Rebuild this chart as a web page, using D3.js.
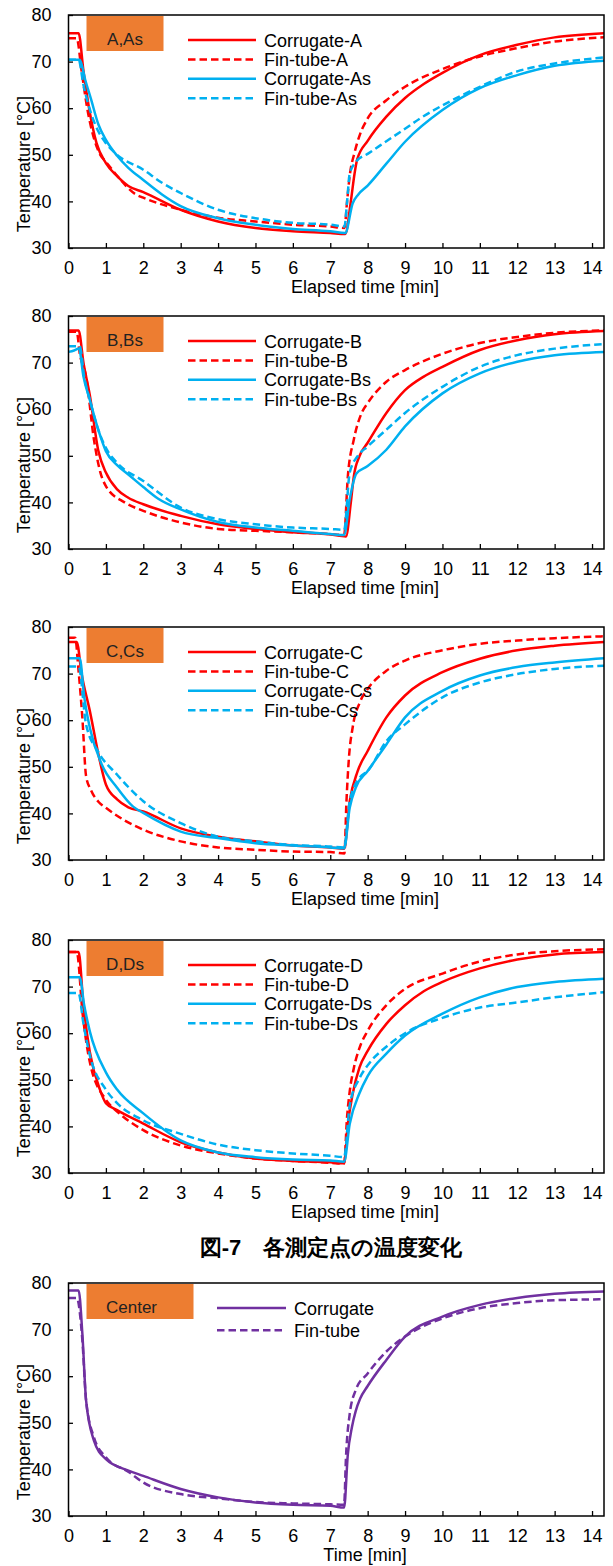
<!DOCTYPE html>
<html>

<head>
    <meta charset="utf-8">
    <title>Temperature change</title>
    <script src="https://d3js.org/d3.v7.min.js"></script>
    <style>
        body { margin: 0; background: #fff; }
        text { font-family: "Liberation Sans", Arial, sans-serif; }
    </style>
</head>

<body>
    <svg id="chart" width="613" height="1566"></svg>
    <script>
        // axis ticks
        const xTicks = d3.range(0, 15);
        const yTicks = [30, 40, 50, 60, 70, 80];

        // [time min, temperature C]
        const corrA = [[0,76.1],[0.27,76.1],[0.4,68],[0.55,60],[0.75,52.5],[1,48.2],[1.3,45.4],[1.6,43.3],[2,42],[3,38.2],[4,35.7],[5,34.3],[6,33.6],[7,33.2],[7.4,33.0],[7.55,40],[7.65,46],[7.72,49],[8,53],[8.5,58.2],[9,62.2],[9.5,65.2],[10,67.6],[11,71.4],[12,73.6],[13,75.2],[14.32,76.1]];
        const finA = [[0,75],[0.22,75],[0.35,68],[0.5,60],[0.7,53],[0.85,50],[1,48.5],[1.3,45.5],[1.8,41.5],[2,40.8],[3,38.2],[4,36.5],[5,35.7],[6,35],[7,34.6],[7.38,34.3],[7.45,40],[7.52,45.5],[7.65,50.5],[7.8,54.5],[8,57.8],[8.5,61.7],[9,64.6],[10,68.4],[11,71.1],[12,72.9],[13,74.3],[14.32,75.2]];
        const corrAs = [[0,70.4],[0.3,70.4],[0.45,66],[0.6,62],[0.8,56.5],[1,53.2],[1.3,49.8],[1.6,47.2],[2,44.6],[2.5,41.5],[3,39],[4,36.4],[5,35],[6,34.1],[7,33.6],[7.4,33.2],[7.6,39.6],[7.75,41.5],[8,43.4],[8.5,48.1],[9,52.8],[10,59.6],[11,64.3],[12,67.1],[13,69.1],[14.32,70.2]];
        const finAs = [[0,70.4],[0.27,70.4],[0.4,65],[0.6,59],[0.8,55],[1,52.5],[1.3,50],[2,46.8],[2.5,44],[3,41.8],[4,38.2],[5,36.4],[6,35.4],[7,35],[7.38,34.6],[7.45,40],[7.52,46],[7.7,48.6],[8,50.2],[8.5,52.9],[9,55.6],[9.4,57.8],[10,60.6],[11,64.6],[12,67.9],[13,69.6],[14.32,70.9]];

        const corrB = [[0,76.9],[0.27,76.9],[0.4,70],[0.57,63],[0.8,51],[1,46.4],[1.3,42.8],[1.6,41],[2,39.6],[3,37.1],[4,35.3],[5,34.3],[6,33.6],[7,33.1],[7.42,32.7],[7.55,40],[7.63,45.6],[7.78,49.9],[8,52.8],[8.5,59.2],[9,64.1],[9.5,67],[10,69.1],[11,72.7],[12,74.8],[13,76.1],[14.32,76.8]];
        const finB = [[0,76.6],[0.22,76.6],[0.3,72],[0.47,67],[0.68,53.5],[0.85,46.5],[1,43.5],[1.5,40],[2,38.2],[3,35.7],[4,34.3],[5,33.9],[6,33.6],[7,33.2],[7.37,33],[7.47,45.6],[7.63,53.5],[7.84,59.2],[8,61.3],[8.5,65.9],[9,68.4],[10,71.9],[11,74.2],[12,75.5],[13,76.4],[14.32,76.9]];
        const corrBs = [[0,72.3],[0.15,72.6],[0.28,73],[0.4,67],[0.57,62],[0.8,55.5],[1,51],[1.3,48],[1.6,46],[2,43.3],[2.4,40.8],[3,38.5],[4,35.8],[5,34.6],[6,33.9],[7,33.2],[7.37,33],[7.52,40.7],[7.7,46.2],[8,47.8],[8.5,51.3],[9,56.3],[10,63.4],[11,67.7],[12,70.2],[13,71.6],[14.32,72.3]];
        const finBs = [[0,73.5],[0.3,73.5],[0.42,67],[0.57,62],[0.8,55.5],[1,51.7],[1.3,48.5],[2,44.6],[3,38.9],[4,36.4],[5,35.3],[6,34.6],[7,34.3],[7.37,34.1],[7.52,46.4],[7.73,49.9],[8,52],[8.5,55.6],[9,59.2],[10,64.8],[11,69.1],[12,71.6],[13,73],[14.32,74]];

        const corrC = [[0,76.8],[0.22,76.8],[0.35,70],[0.57,62],[0.84,51.2],[1,46.2],[1.3,43],[1.6,41.3],[2,40.4],[3,36.8],[4,35],[5,34],[6,33.1],[7,32.7],[7.37,32.4],[7.52,42.6],[7.73,49],[8,53.4],[8.5,60.6],[9,65.3],[10,70.3],[11,73.2],[12,75],[13,76],[14.32,76.8]];
        const finC = [[0,77.7],[0.18,77.7],[0.26,71.4],[0.37,60.6],[0.47,48],[0.6,45],[0.8,42.5],[1,41.2],[1.5,38.5],[2,36.5],[3,34],[4,32.7],[5,32.2],[6,31.8],[7,31.7],[7.38,31.4],[7.43,42],[7.5,52],[7.6,58.5],[7.8,64],[8,66.7],[8.5,70.6],[9,72.8],[10,75],[11,76.4],[12,77.1],[13,77.6],[14.32,78]];
        const corrCs = [[0,73.3],[0.3,73.3],[0.42,65],[0.57,58.4],[0.89,50.5],[1.3,45.5],[1.72,41.5],[2,40.1],[3,36.1],[4,34.7],[5,33.6],[6,33.1],[7,32.7],[7.37,32.5],[7.52,41.2],[7.68,45.5],[8,49.1],[8.5,54.8],[9,60.6],[10,66.3],[11,69.6],[12,71.4],[13,72.4],[14.32,73.3]];
        const finCs = [[0,71.5],[0.27,71.5],[0.47,59.1],[0.78,53.4],[1.3,48.3],[2,42.6],[3,37.9],[4,35],[5,34],[6,33.2],[7,32.9],[7.37,32.7],[7.52,42.6],[7.78,47.6],[8,49.1],[8.5,55.5],[9,59.1],[10,64.9],[11,68.1],[12,69.9],[13,71],[14.32,71.7]];

        const corrD = [[0,77.4],[0.27,77.4],[0.4,66],[0.57,56],[0.84,47.9],[1,45],[1.3,43.5],[2,40.6],[3,36.6],[4,34.4],[5,33.1],[6,32.6],[7,32.3],[7.37,32.1],[7.47,40.5],[7.6,47],[7.78,52.6],[8,56.2],[8.5,62],[9,66],[9.5,69],[10,71],[11,73.9],[12,75.8],[13,76.9],[14.32,77.4]];
        const finD = [[0,77.4],[0.22,77.4],[0.38,64],[0.57,53.8],[1,45.7],[1.3,43.2],[2,39.2],[3,35.9],[4,34.2],[5,33.1],[6,32.6],[7,32.2],[7.37,32],[7.45,42.1],[7.52,47.5],[7.63,52.5],[7.78,56.8],[8,60.5],[8.5,66],[9,69.5],[10,72.8],[11,75.4],[12,76.9],[13,77.6],[14.32,78]];
        const corrDs = [[0,72],[0.3,72],[0.42,66],[0.57,60.4],[1,51.6],[1.3,47.9],[2,42.8],[3,37],[4,34.4],[5,33.4],[6,32.9],[7,32.7],[7.37,32.4],[7.52,40.5],[7.78,47.1],[8,50.8],[8.5,55.6],[9,59.5],[10,64.2],[11,67.7],[12,69.9],[13,71],[14.32,71.7]];
        const finDs = [[0,68.6],[0.27,68.6],[0.4,62],[0.57,55.3],[1,47.9],[1.3,45],[2,41.3],[3,38.4],[4,36.1],[5,34.9],[6,34.2],[7,33.7],[7.37,33.4],[7.52,44.5],[7.78,50.3],[8,53.1],[8.5,57.1],[9,60],[10,63.3],[11,65.5],[12,66.6],[13,67.7],[14.32,68.8]];

        const corrCenter = [[0,78.4],[0.27,78.4],[0.37,69.2],[0.47,54.8],[0.68,46.2],[1,42.2],[1.62,39.7],[2,38.6],[3,35.8],[4,34],[5,32.9],[6,32.4],[7,32.2],[7.37,31.8],[7.47,43.3],[7.58,49.1],[7.68,52.5],[7.8,55.2],[8,57.9],[8.5,63.5],[9,68.5],[10,72.8],[11,75.3],[12,76.8],[13,77.7],[14.32,78.2]];
        const finCenter = [[0,76.8],[0.22,76.8],[0.37,67.8],[0.47,54.8],[0.68,46.9],[1,42.6],[1.62,39.4],[2,37.2],[3,34.7],[4,33.8],[5,33],[6,32.7],[7,32.5],[7.37,32.4],[7.42,42.6],[7.52,51.9],[7.68,57],[8,60.6],[8.5,65.3],[9,68.5],[10,72.4],[11,74.6],[12,75.7],[13,76.3],[14.32,76.5]];

        const red = "#ff0000", blue = "#00b0f0", purple = "#7030a0";

        const panels = [
            { top: 15, label: "A,As", xTitle: "Elapsed time [min]", series: [
                { name: "Corrugate-A", data: corrA, color: red, dash: false },
                { name: "Fin-tube-A", data: finA, color: red, dash: true },
                { name: "Corrugate-As", data: corrAs, color: blue, dash: false },
                { name: "Fin-tube-As", data: finAs, color: blue, dash: true }] },
            { top: 316, label: "B,Bs", xTitle: "Elapsed time [min]", series: [
                { name: "Corrugate-B", data: corrB, color: red, dash: false },
                { name: "Fin-tube-B", data: finB, color: red, dash: true },
                { name: "Corrugate-Bs", data: corrBs, color: blue, dash: false },
                { name: "Fin-tube-Bs", data: finBs, color: blue, dash: true }] },
            { top: 627, label: "C,Cs", xTitle: "Elapsed time [min]", series: [
                { name: "Corrugate-C", data: corrC, color: red, dash: false },
                { name: "Fin-tube-C", data: finC, color: red, dash: true },
                { name: "Corrugate-Cs", data: corrCs, color: blue, dash: false },
                { name: "Fin-tube-Cs", data: finCs, color: blue, dash: true }] },
            { top: 940, label: "D,Ds", xTitle: "Elapsed time [min]", series: [
                { name: "Corrugate-D", data: corrD, color: red, dash: false },
                { name: "Fin-tube-D", data: finD, color: red, dash: true },
                { name: "Corrugate-Ds", data: corrDs, color: blue, dash: false },
                { name: "Fin-tube-Ds", data: finDs, color: blue, dash: true }] },
            { top: 1283, label: "Center", xTitle: "Time [min]", wide: true, series: [
                { name: "Corrugate", data: corrCenter, color: purple, dash: false },
                { name: "Fin-tube", data: finCenter, color: purple, dash: true }] }
        ];

        const svg = d3.select("#chart");
        const left = 68.5, right = 604, h = 233;

        const x = d3.scaleLinear().domain([0, 14.32]).range([left, right]);

        panels.forEach(function (p, i) {
            const y = d3.scaleLinear().domain([30, 80]).range([p.top + h, p.top]);
            const g = svg.append("g");

            g.append("clipPath").attr("id", "clip" + i)
                .append("rect").attr("x", left).attr("y", p.top).attr("width", right - left).attr("height", h);

            // ticks inside the frame
            const xAxis = g.append("g")
                .attr("transform", "translate(0," + (p.top + h) + ")")
                .call(d3.axisBottom(x).tickValues(xTicks).tickSizeInner(-5).tickSizeOuter(0).tickPadding(13));
            xAxis.select(".domain").remove();
            xAxis.selectAll("text").attr("font-size", 18).attr("fill", "#000")
                .attr("font-family", "Liberation Sans, Arial, sans-serif");
            xAxis.selectAll("line").attr("stroke", "#000").attr("stroke-width", 1.3);

            const yAxis = g.append("g")
                .attr("transform", "translate(" + left + ",0)")
                .call(d3.axisLeft(y).tickValues(yTicks).tickSizeInner(-4.5).tickSizeOuter(0).tickPadding(17));
            yAxis.select(".domain").remove();
            yAxis.selectAll("text").attr("font-size", 18).attr("fill", "#000")
                .attr("font-family", "Liberation Sans, Arial, sans-serif");
            yAxis.selectAll("line").attr("stroke", "#000").attr("stroke-width", 1.3);

            const line = d3.line()
                .x(d => x(d[0]))
                .y(d => y(d[1]))
                .curve(d3.curveMonotoneX);

            g.append("g").attr("clip-path", "url(#clip" + i + ")")
                .selectAll("path")
                .data(p.series)
                .join("path")
                .attr("fill", "none")
                .attr("stroke", d => d.color)
                .attr("stroke-width", 2.5)
                .attr("stroke-dasharray", d => d.dash ? "7.5,4" : null)
                .attr("d", d => line(d.data));

            // frame
            g.append("rect")
                .attr("x", left).attr("y", p.top)
                .attr("width", right - left).attr("height", h)
                .attr("fill", "none").attr("stroke", "#000").attr("stroke-width", 1.5);

            // orange label box
            const bw = p.wide ? 107 : 77;
            g.append("rect")
                .attr("x", 86.5).attr("y", p.top + 1)
                .attr("width", bw).attr("height", 35)
                .attr("fill", "#ed7d31");
            g.append("text")
                .attr("x", p.wide ? 106 : 86.5 + bw / 2)
                .attr("y", p.top + 30)
                .attr("text-anchor", p.wide ? "start" : "middle")
                .attr("font-family", "Noto Sans, sans-serif")
                .attr("font-size", 17)
                .attr("fill", "#222")
                .text(p.label);

            // legend
            const lx = p.wide ? 217 : 188;
            const lw = p.wide ? 69 : 68;
            const rowGap = p.wide ? 22.3 : 19.4;
            const leg = g.append("g").selectAll("g")
                .data(p.series)
                .join("g")
                .attr("transform", (d, k) => "translate(" + lx + "," + (p.top + 25 + k * rowGap) + ")");
            leg.append("line")
                .attr("x1", 0).attr("x2", lw)
                .attr("stroke", d => d.color)
                .attr("stroke-width", 2.5)
                .attr("stroke-dasharray", d => d.dash ? "7.5,4" : null);
            leg.append("text")
                .attr("x", lw + 8).attr("y", 6.5)
                .attr("font-size", 18)
                .text(d => d.name);

            // axis titles
            g.append("text")
                .attr("x", 365).attr("y", p.top + h + 45)
                .attr("text-anchor", "middle")
                .attr("font-size", 18)
                .text(p.xTitle);
            g.append("text")
                .attr("transform", "translate(30," + (p.top + 149) + ") rotate(-90)")
                .attr("text-anchor", "middle")
                .attr("font-size", 18)
                .text("Temperature [°C]");
        });

        // figure caption
        svg.append("text")
            .attr("x", 331).attr("y", 1255)
            .attr("text-anchor", "middle")
            .attr("font-family", "Noto Sans CJK JP, sans-serif")
            .attr("font-weight", "bold")
            .attr("font-size", 22)
            .text("図-7　各測定点の温度変化");
    </script>
</body>

</html>
